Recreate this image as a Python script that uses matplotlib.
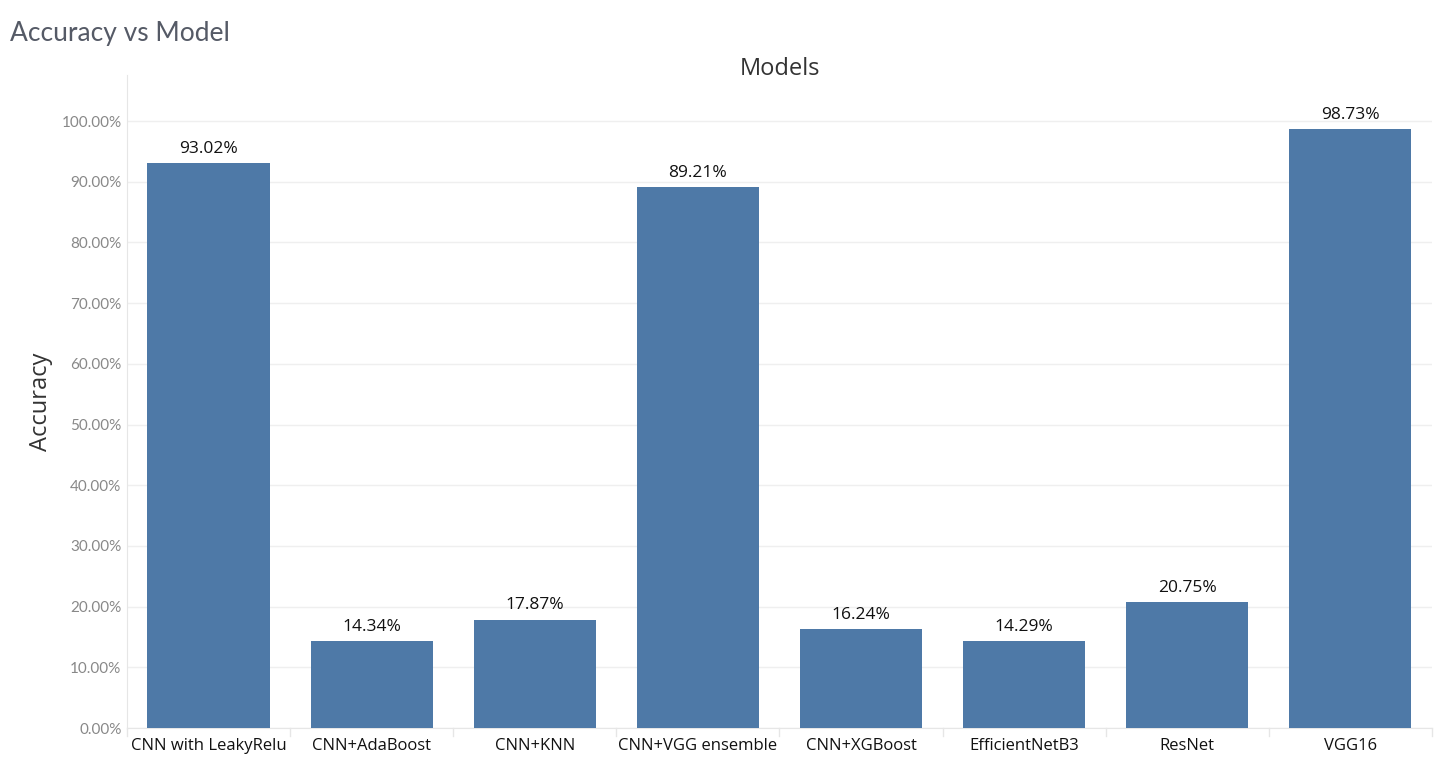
import matplotlib
matplotlib.use("Agg")
import matplotlib.pyplot as plt
import numpy as np

# chart data
models = ["CNN with LeakyRelu", "CNN+AdaBoost", "CNN+KNN", "CNN+VGG ensemble",
          "CNN+XGBoost", "EfficientNetB3", "ResNet", "VGG16"]
accuracy = [93.02, 14.34, 17.87, 89.21, 16.24, 14.29, 20.75, 98.73]
yticks = [0, 10, 20, 30, 40, 50, 60, 70, 80, 90, 100]

plt.rcParams['font.family'] = ['Lato', 'DejaVu Sans']

fig = plt.figure(figsize=(14.37, 7.73), dpi=100)
ax = fig.add_axes([0.0884, 0.0582, 0.908, 0.8448])

x = np.arange(len(models))
ax.bar(x, accuracy, width=0.75, color="#4e79a7", zorder=3)

for xi, v in zip(x, accuracy):
    ax.text(xi, v + 1.0, f"{v:.2f}%", ha="center", va="bottom",
            fontsize=12.5, color="#111111", family=['Open Sans', 'DejaVu Sans'])

ax.set_xlim(-0.5, len(models) - 0.5)
ax.set_ylim(0, 107.6)
ax.set_yticks(yticks)
ax.set_yticklabels([f"{t:.2f}%" for t in yticks], color="#888888", fontsize=11)
ax.set_xticks(x)
ax.set_xticklabels(models, fontsize=12, color="#111111",
                   family=['Open Sans', 'DejaVu Sans'])
ax.tick_params(axis="both", length=0, pad=4)
ax.tick_params(axis="x", pad=7)

# category dividers on the x axis
for b in np.arange(-0.5, len(models) + 0.5, 1):
    ax.plot([b, b], [0, -1.3], color="#e6e6e6", lw=1, clip_on=False)

ax.grid(axis="y", color="#efefef", lw=1, zorder=0)
for s in ["top", "right"]:
    ax.spines[s].set_visible(False)
ax.spines["left"].set_color("#e6e6e6")
ax.spines["bottom"].set_color("#e6e6e6")

ax.set_ylabel("Accuracy", fontsize=17, color="#333333", labelpad=6,
              family=['Open Sans', 'DejaVu Sans'])
fig.text(0.543, 0.903, "Models", ha="center", fontsize=17, color="#333333",
         family=['Open Sans', 'DejaVu Sans'])
fig.text(0.007, 0.947, "Accuracy vs Model", fontsize=19, color="#555a66")

fig.savefig("out.png", dpi=100)
